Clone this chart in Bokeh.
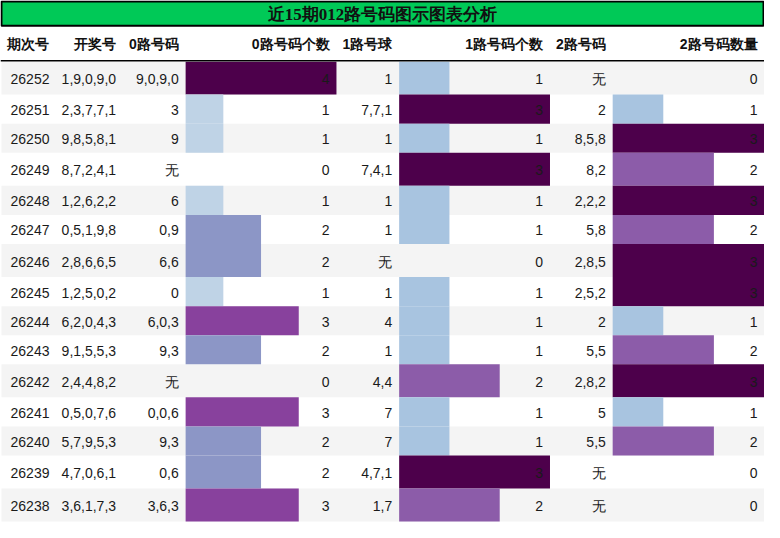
from bokeh.plotting import figure
from bokeh.models import ColumnDataSource
from bokeh.core.properties import value
from bokeh.embed import file_html
from bokeh.resources import INLINE

title = "近15期012路号码图示图表分析"
headers = ["期次号", "开奖号", "0路号码", "0路号码个数", "1路号球", "1路号码个数", "2路号码", "2路号码数量"]

periods = ["26252", "26251", "26250", "26249", "26248", "26247", "26246", "26245",
           "26244", "26243", "26242", "26241", "26240", "26239", "26238"]
draws = ["1,9,0,9,0", "2,3,7,7,1", "9,8,5,8,1", "8,7,2,4,1", "1,2,6,2,2", "0,5,1,9,8",
         "2,8,6,6,5", "1,2,5,0,2", "6,2,0,4,3", "9,1,5,5,3", "2,4,4,8,2", "0,5,0,7,6",
         "5,7,9,5,3", "4,7,0,6,1", "3,6,1,7,3"]
r0 = ["9,0,9,0", "3", "9", "无", "6", "0,9", "6,6", "0", "6,0,3", "9,3", "无", "0,0,6", "9,3", "0,6", "3,6,3"]
r0n = [4, 1, 1, 0, 1, 2, 2, 1, 3, 2, 0, 3, 2, 2, 3]
r1 = ["1", "7,7,1", "1", "7,4,1", "1", "1", "无", "1", "4", "1", "4,4", "7", "7", "4,7,1", "1,7"]
r1n = [1, 3, 1, 3, 1, 1, 0, 1, 1, 1, 2, 1, 1, 3, 2]
r2 = ["无", "2", "8,5,8", "8,2", "2,2,2", "5,8", "2,8,5", "2,5,2", "2", "5,5", "2,8,2", "5", "5,5", "无", "无"]
r2n = [0, 1, 3, 2, 3, 2, 3, 3, 1, 2, 3, 1, 2, 0, 0]

# layout in reference pixels
col_w = [57, 68, 64, 154, 64, 154, 64, 155]
col_x = [0]
for w in col_w:
    col_x.append(col_x[-1] + w)
pad = 7
W, H = 780, 538
title_h = 26
head_bot = 62
row_top0 = 63

palette0 = {1: "#bfd3e6", 2: "#8c96c6", 3: "#88419d", 4: "#4d004b"}
palette12 = {1: "#a8c4e0", 2: "#8c5ca9", 3: "#4d004b"}

p = figure(width=764, height=522, x_range=(0, W), y_range=(H, 0),
           output_backend="svg", toolbar_location=None, min_border=0)
p.axis.visible = False
p.grid.visible = False
p.outline_line_color = None
p.background_fill_color = "white"
p.border_fill_color = "white"

# row geometry
tops, bots = [], []
y = row_top0
for i in range(len(periods)):
    tall = "无" in (r0[i] + r1[i] + r2[i])
    h = 34 if tall else 30
    tops.append(y)
    bots.append(y + h)
    y += h

# zebra backgrounds
zi = [i for i in range(len(periods)) if i % 2 == 0]
p.quad(left=1, right=W, top=[tops[i] for i in zi], bottom=[bots[i] for i in zi],
       fill_color="#f4f4f4", line_color=None)

# bars
bar_cols = [(3, r0n, palette0), (5, r1n, palette12), (7, r2n, palette12)]
for ci, counts, pal in bar_cols:
    mx = max(counts)
    left = col_x[ci]
    idx = [i for i, c in enumerate(counts) if c > 0]
    src = ColumnDataSource(dict(
        l=[left] * len(idx),
        r=[left + col_w[ci] * counts[i] / mx for i in idx],
        t=[tops[i] for i in idx],
        b=[bots[i] for i in idx],
        c=[pal[counts[i]] for i in idx],
    ))
    p.quad(left="l", right="r", top="t", bottom="b", fill_color="c", line_color=None, source=src)

# title bar
p.quad(left=1, right=W - 1, top=1, bottom=title_h, fill_color="#00c957",
       line_color="black", line_width=2)
p.text(x=[W / 2], y=[title_h / 2 + 1], text=[title], text_align="center", text_baseline="middle",
       text_font=value("Liberation Serif"), text_font_style="bold", text_font_size="17px",
       text_color="#111111")

# header
p.text(x=[col_x[k + 1] - pad for k in range(8)], y=[(title_h + head_bot) / 2 + 1] * 8, text=headers,
       text_align="right", text_baseline="middle", text_font=value("Liberation Sans"),
       text_font_style="bold", text_font_size="14px", text_color="#111111")
p.line(x=[0, W], y=[head_bot, head_bot], line_color="black", line_width=1.5)

# body text
columns = [periods, draws, r0, [str(v) for v in r0n], r1, [str(v) for v in r1n], r2, [str(v) for v in r2n]]
xs, ys, ts = [], [], []
for k, col in enumerate(columns):
    for i, t in enumerate(col):
        xs.append(col_x[k + 1] - pad)
        ys.append((tops[i] + bots[i]) / 2 + 1)
        ts.append(t)
p.text(x=xs, y=ys, text=ts, text_align="right", text_baseline="middle",
       text_font=value("Liberation Sans"), text_font_size="14px", text_color="#1a1a1a")

open("out.html", "w").write(file_html(p, INLINE))
